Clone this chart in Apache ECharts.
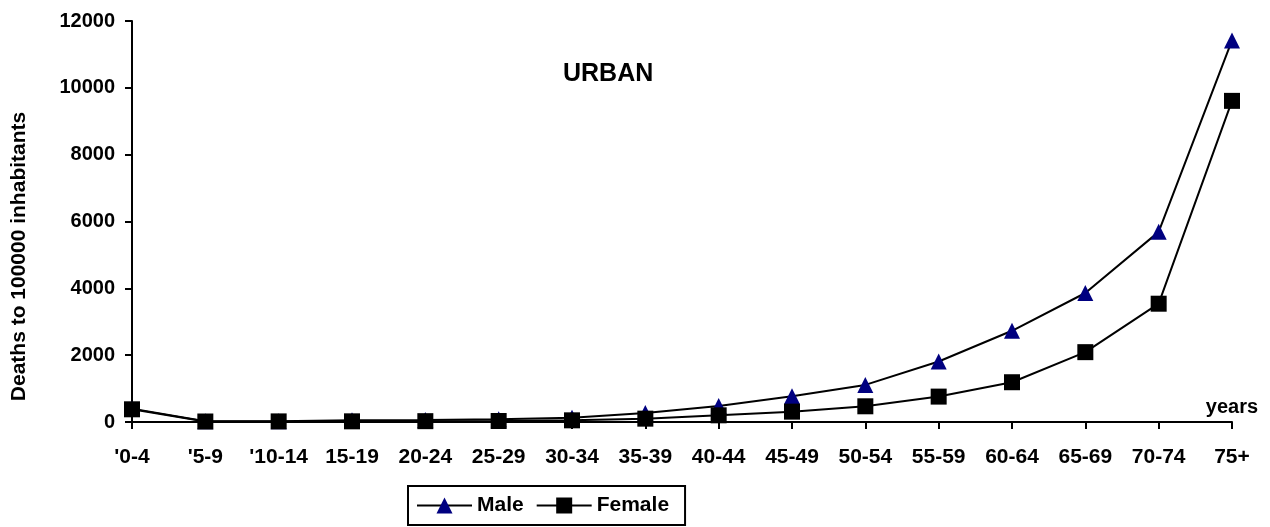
<!DOCTYPE html>
<html>
<head>
<meta charset="utf-8">
<script src="https://cdn.jsdelivr.net/npm/echarts@6/dist/echarts.min.js"></script>
<style>
  html, body { margin: 0; padding: 0; background: #fff; }
  #chart { width: 1270px; height: 527px; }
</style>
</head>
<body>
<div id="chart"></div>
<script>
  var ageGroups = ["'0-4", "'5-9", "'10-14", '15-19', '20-24', '25-29', '30-34', '35-39',
    '40-44', '45-49', '50-54', '55-59', '60-64', '65-69', '70-74', '75+'];
  var male = [400, 20, 25, 50, 60, 80, 130, 270, 480, 770, 1110, 1810, 2730, 3860, 5690, 11420];
  var female = [380, 15, 18, 20, 25, 30, 50, 100, 200, 310, 470, 760, 1190, 2090, 3540, 9610];
  var yTicks = [0, 2000, 4000, 6000, 8000, 10000, 12000];

  var font = 'Liberation Sans, Arial, sans-serif';
  var chart = echarts.init(document.getElementById('chart'));
  var option = {
    animation: false,
    title: {
      text: 'URBAN',
      left: 563,
      top: 62,
      padding: 0,
      textStyle: { fontFamily: font, fontWeight: 'bold', fontSize: 25, color: '#000' }
    },
    grid: { left: 132, right: 38, top: 21, bottom: 105, containLabel: false, outerBoundsMode: 'none' },
    legend: {
      left: 408,
      top: 486,
      padding: [9, 16, 9, 8],
      borderColor: '#000',
      borderWidth: 2,
      itemWidth: 55,
      itemHeight: 20,
      itemGap: 12,
      textStyle: { fontFamily: font, fontWeight: 'bold', fontSize: 21, color: '#000' },
      data: ['Male', 'Female']
    },
    xAxis: {
      type: 'category',
      data: ageGroups,
      boundaryGap: false,
      name: 'years',
      nameLocation: 'end',
      nameGap: 0,
      nameTextStyle: { fontFamily: font, fontWeight: 'bold', fontSize: 20, color: '#000',
        align: 'center', verticalAlign: 'bottom', padding: [0, 0, 5, 0] },
      axisLine: { onZero: false, lineStyle: { color: '#000', width: 2 } },
      axisTick: { alignWithLabel: true, length: 7, lineStyle: { color: '#000', width: 2 } },
      axisLabel: { fontFamily: font, fontWeight: 'bold', fontSize: 21, color: '#000', margin: 25,
        interval: 0 },
      splitLine: { show: false }
    },
    yAxis: {
      type: 'value',
      min: 0,
      max: yTicks[yTicks.length - 1],
      interval: 2000,
      name: 'Deaths to 100000 inhabitants',
      nameLocation: 'middle',
      nameRotate: 90,
      nameGap: 102,
      nameTextStyle: { fontFamily: font, fontWeight: 'bold', fontSize: 21, color: '#000',
        padding: [0, 70, 0, 0] },
      axisLine: { show: true, lineStyle: { color: '#000', width: 2 } },
      axisTick: { show: true, length: 7, lineStyle: { color: '#000', width: 2 } },
      axisLabel: { fontFamily: font, fontWeight: 'bold', fontSize: 20, color: '#000', margin: 17,
        formatter: function (v) { return String(v); } },
      splitLine: { show: false }
    },
    series: [
      {
        name: 'Male',
        type: 'line',
        data: male,
        symbol: 'triangle',
        symbolSize: 16,
        lineStyle: { color: '#000', width: 2 },
        itemStyle: { color: '#000080', borderWidth: 0 }
      },
      {
        name: 'Female',
        type: 'line',
        data: female,
        symbol: 'rect',
        symbolSize: 16,
        lineStyle: { color: '#000', width: 2 },
        itemStyle: { color: '#000', borderWidth: 0 }
      }
    ]
  };
  chart.setOption(option);
</script>
</body>
</html>
